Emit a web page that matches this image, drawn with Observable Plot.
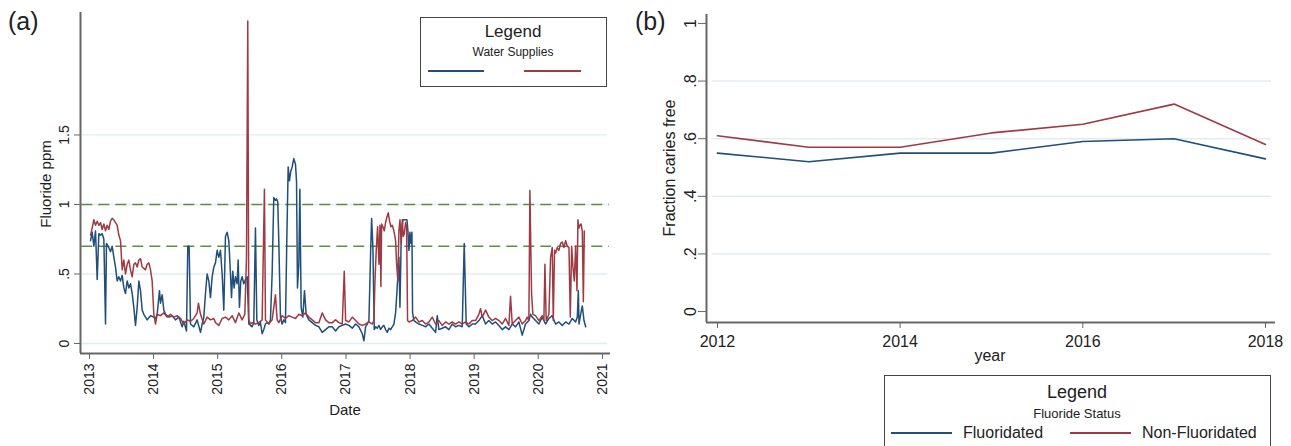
<!DOCTYPE html>
<html>
<head>
<meta charset="utf-8">
<script src="https://cdn.jsdelivr.net/npm/d3@7"></script>
<script src="https://cdn.jsdelivr.net/npm/@observablehq/plot@0.6"></script>
<style>
  html, body { margin: 0; padding: 0; background: #fff; }
  #page { position: relative; width: 1291px; height: 446px; overflow: hidden; background: #fff;
          font-family: "Liberation Sans", Arial, sans-serif; color: #222; }
  .abs { position: absolute; white-space: nowrap; }
  .chart { position: absolute; top: 0; }
  .legend { position: absolute; border: 1.5px solid #444; background: #fff; box-sizing: border-box; }
  .swatch { position: absolute; height: 0; border-top: 2px solid; }
</style>
</head>
<body>
<div id="page"></div>
<script>
// ---------------- DATA ----------------
// Panel (a): weekly fluoride level (ppm) by decimal year
const fluoridatedSupply = [
  [2013.016,.74],[2013.042,.80],[2013.068,.70],[2013.094,.81],[2013.120,.46],[2013.146,.79],[2013.172,.78],
  [2013.198,.79],[2013.224,.75],[2013.250,.14],[2013.265,.72],[2013.302,.69],[2013.328,.66],[2013.354,.70],
  [2013.380,.62],[2013.406,.55],[2013.432,.45],[2013.458,.48],[2013.484,.45],[2013.510,.49],[2013.536,.40],
  [2013.562,.36],[2013.588,.45],[2013.614,.40],[2013.640,.43],[2013.666,.36],[2013.692,.26],[2013.718,.13],
  [2013.744,.26],[2013.770,.45],[2013.796,.38],[2013.822,.24],[2013.848,.21],[2013.874,.19],[2013.900,.17],
  [2013.952,.20],[2014.004,.19],[2014.030,.18],[2014.056,.21],[2014.092,.38],[2014.108,.29],[2014.134,.35],
  [2014.160,.24],[2014.186,.21],[2014.238,.19],[2014.290,.20],[2014.342,.17],[2014.394,.19],[2014.446,.12],
  [2014.472,.16],[2014.514,.09],[2014.534,.70],[2014.555,.70],[2014.576,.14],[2014.628,.12],[2014.680,.17],
  [2014.732,.08],[2014.758,.14],[2014.784,.19],[2014.810,.36],[2014.836,.50],[2014.862,.45],[2014.888,.33],
  [2014.914,.48],[2014.940,.55],[2014.966,.58],[2014.992,.67],[2015.018,.62],[2015.044,.67],[2015.070,.50],
  [2015.096,.24],[2015.122,.77],[2015.148,.80],[2015.174,.74],[2015.200,.50],[2015.216,.33],[2015.236,.52],
  [2015.257,.40],[2015.278,.48],[2015.304,.43],[2015.320,.60],[2015.340,.26],[2015.361,.45],[2015.382,.48],
  [2015.408,.43],[2015.434,.46],[2015.460,.48],[2015.486,.14],[2015.512,.13],[2015.538,.12],[2015.564,.15],
  [2015.590,.83],[2015.611,.17],[2015.642,.13],[2015.668,.15],[2015.694,.07],[2015.720,.10],[2015.746,.14],
  [2015.772,.15],[2015.798,.14],[2015.824,.17],[2015.850,.50],[2015.876,1.05],[2015.902,1.03],[2015.918,1.04],
  [2015.938,1.02],[2015.954,.74],[2015.980,.19],[2016.006,.14],[2016.032,.17],[2016.058,.15],[2016.079,.74],
  [2016.100,1.27],[2016.120,1.17],[2016.141,1.24],[2016.162,1.27],[2016.188,1.33],[2016.214,1.29],[2016.230,1.17],
  [2016.245,.40],[2016.266,.57],[2016.282,1.11],[2016.302,.26],[2016.328,.19],[2016.354,.38],[2016.380,.21],
  [2016.422,.17],[2016.474,.15],[2016.526,.13],[2016.578,.12],[2016.630,.08],[2016.682,.10],[2016.734,.12],
  [2016.786,.12],[2016.838,.09],[2016.890,.12],[2016.942,.13],[2016.994,.14],[2017.046,.13],[2017.098,.11],
  [2017.150,.14],[2017.202,.12],[2017.254,.07],[2017.280,.02],[2017.306,.12],[2017.332,.14],[2017.358,.165],
  [2017.384,.65],[2017.400,.90],[2017.420,.69],[2017.441,.10],[2017.462,.12],[2017.488,.11],[2017.514,.13],
  [2017.540,.10],[2017.566,.12],[2017.592,.13],[2017.618,.10],[2017.644,.08],[2017.670,.11],[2017.696,.10],
  [2017.722,.12],[2017.748,.14],[2017.774,.22],[2017.800,.41],[2017.826,.62],[2017.842,.26],[2017.862,.77],
  [2017.888,.89],[2017.909,.89],[2017.930,.89],[2017.951,.89],[2017.966,.81],[2017.982,.67],[2017.998,.80],
  [2018.013,.72],[2018.029,.80],[2018.039,.22],[2018.060,.165],[2018.086,.155],[2018.138,.14],[2018.190,.13],
  [2018.242,.12],[2018.294,.14],[2018.346,.11],[2018.398,.08],[2018.424,.20],[2018.450,.10],[2018.502,.11],
  [2018.554,.12],[2018.606,.10],[2018.658,.14],[2018.710,.12],[2018.762,.13],[2018.814,.12],[2018.845,.72],
  [2018.876,.14],[2018.918,.12],[2018.970,.14],[2019.022,.14],[2019.074,.165],[2019.126,.20],[2019.178,.14],
  [2019.230,.165],[2019.282,.14],[2019.334,.155],[2019.386,.13],[2019.438,.10],[2019.490,.12],[2019.542,.10],
  [2019.594,.14],[2019.646,.12],[2019.698,.155],[2019.750,.06],[2019.802,.14],[2019.854,.165],[2019.880,.21],
  [2019.906,.19],[2019.958,.165],[2020.010,.14],[2020.062,.19],[2020.114,.14],[2020.166,.18],[2020.218,.20],
  [2020.270,.14],[2020.322,.155],[2020.374,.13],[2020.426,.155],[2020.478,.14],[2020.530,.18],[2020.582,.155],
  [2020.608,.19],[2020.624,.38],[2020.634,.14],[2020.660,.21],[2020.686,.27],[2020.712,.165],[2020.738,.12]
];
const nonFluoridatedSupply = [
  [2013.016,.78],[2013.042,.83],[2013.068,.89],[2013.094,.85],[2013.120,.88],[2013.146,.85],[2013.172,.87],
  [2013.198,.82],[2013.224,.86],[2013.250,.81],[2013.276,.85],[2013.302,.82],[2013.328,.88],[2013.354,.90],
  [2013.380,.89],[2013.406,.87],[2013.432,.85],[2013.458,.78],[2013.484,.74],[2013.510,.53],[2013.536,.60],
  [2013.562,.50],[2013.588,.57],[2013.614,.60],[2013.640,.53],[2013.666,.48],[2013.692,.57],[2013.718,.58],
  [2013.744,.55],[2013.770,.60],[2013.796,.61],[2013.822,.55],[2013.848,.54],[2013.874,.53],[2013.900,.57],
  [2013.926,.58],[2013.952,.53],[2013.978,.45],[2014.004,.21],[2014.030,.14],[2014.056,.21],[2014.108,.20],
  [2014.160,.22],[2014.212,.19],[2014.264,.21],[2014.316,.19],[2014.368,.20],[2014.420,.18],[2014.472,.14],
  [2014.524,.17],[2014.576,.16],[2014.628,.18],[2014.680,.22],[2014.700,.29],[2014.732,.21],[2014.784,.14],
  [2014.836,.19],[2014.888,.17],[2014.940,.18],[2014.966,.15],[2015.018,.13],[2015.070,.18],[2015.122,.19],
  [2015.174,.17],[2015.226,.20],[2015.278,.15],[2015.330,.22],[2015.382,.17],[2015.424,.21],[2015.450,.62],
  [2015.470,2.32],[2015.486,.17],[2015.512,.14],[2015.538,.15],[2015.590,.14],[2015.642,.15],[2015.694,.17],
  [2015.730,1.11],[2015.746,.17],[2015.798,.14],[2015.850,.17],[2015.902,.35],[2015.928,.17],[2015.954,.15],
  [2016.006,.20],[2016.058,.18],[2016.110,.20],[2016.162,.19],[2016.214,.18],[2016.266,.21],[2016.318,.20],
  [2016.370,.22],[2016.422,.19],[2016.474,.17],[2016.526,.15],[2016.578,.15],[2016.630,.22],[2016.682,.17],
  [2016.734,.15],[2016.786,.15],[2016.838,.17],[2016.890,.15],[2016.942,.14],[2016.973,.52],[2016.994,.165],
  [2017.046,.155],[2017.098,.19],[2017.150,.165],[2017.202,.14],[2017.254,.13],[2017.306,.14],[2017.358,.155],
  [2017.410,.14],[2017.436,.165],[2017.452,.45],[2017.472,.67],[2017.493,.84],[2017.514,.57],[2017.530,.85],
  [2017.545,.41],[2017.556,.86],[2017.576,.84],[2017.597,.81],[2017.618,.87],[2017.639,.91],[2017.660,.94],
  [2017.680,.88],[2017.701,.84],[2017.722,.85],[2017.748,.81],[2017.774,.74],[2017.790,.57],[2017.810,.45],
  [2017.826,.81],[2017.842,.89],[2017.862,.72],[2017.878,.89],[2017.894,.77],[2017.909,.79],[2017.930,.87],
  [2017.946,.84],[2017.961,.165],[2017.982,.155],[2018.034,.165],[2018.086,.19],[2018.138,.155],[2018.190,.165],
  [2018.242,.14],[2018.294,.155],[2018.346,.19],[2018.398,.14],[2018.450,.165],[2018.502,.13],[2018.554,.155],
  [2018.606,.14],[2018.658,.155],[2018.710,.14],[2018.762,.155],[2018.814,.14],[2018.866,.155],[2018.918,.14],
  [2018.970,.165],[2019.022,.165],[2019.074,.21],[2019.100,.25],[2019.126,.19],[2019.178,.24],[2019.230,.19],
  [2019.282,.165],[2019.334,.18],[2019.386,.165],[2019.438,.14],[2019.490,.18],[2019.542,.13],[2019.568,.34],
  [2019.594,.14],[2019.646,.165],[2019.698,.19],[2019.750,.14],[2019.802,.165],[2019.828,.19],[2019.854,.165],
  [2019.870,1.10],[2019.896,.36],[2019.916,.21],[2019.958,.20],[2020.010,.165],[2020.062,.20],[2020.088,.165],
  [2020.104,.57],[2020.124,.165],[2020.166,.21],[2020.192,.62],[2020.218,.69],[2020.234,.165],[2020.254,.67],
  [2020.270,.65],[2020.296,.69],[2020.322,.67],[2020.348,.72],[2020.374,.73],[2020.400,.69],[2020.426,.74],
  [2020.452,.70],[2020.478,.69],[2020.499,.19],[2020.520,.70],[2020.540,.55],[2020.561,.45],[2020.582,.70],
  [2020.603,.38],[2020.618,.89],[2020.634,.83],[2020.650,.85],[2020.665,.86],[2020.686,.81],[2020.702,.30],
  [2020.717,.81]
];
const recommendedLevels = [1.0, 0.7];          // dashed reference lines
const ppmTicks = [0, 0.5, 1, 1.5];
const dateTickYears = [2013, 2014, 2015, 2016, 2017, 2018, 2019, 2020, 2021];

// Panel (b): fraction caries free by year
const surveyYears = [2012, 2013, 2014, 2015, 2016, 2017, 2018];
const cariesFreeFluoridated    = [0.55, 0.52, 0.55, 0.55, 0.59, 0.60, 0.53];
const cariesFreeNonFluoridated = [0.61, 0.57, 0.57, 0.62, 0.65, 0.72, 0.58];
const fractionTicks = [0, 0.2, 0.4, 0.6, 0.8, 1];
const yearTicks = [2012, 2014, 2016, 2018];

// ---------------- STYLE ----------------
const BLUE = "#1f4f7a", RED = "#9e3a44", GREEN = "#5f8f3d", GRID = "#e3edf0", AXIS = "#666", TXT = "#222";
const FONT = '"Liberation Sans", Arial, sans-serif';
const stataFmt = d => String(d).replace(/^0\./, ".");
const toDate = t => { const y = Math.floor(t); const s = Date.UTC(y, 0, 1), e = Date.UTC(y + 1, 0, 1); return new Date(s + (t - y) * (e - s)); };

const page = document.getElementById("page");
function addText(txt, css) {
  const d = document.createElement("div");
  d.className = "abs"; d.textContent = txt;
  Object.assign(d.style, css);
  page.appendChild(d);
  return d;
}

// ---------------- PANEL (a) ----------------
const xA0 = toDate(2012.86), xA1 = toDate(2021.125), yA0 = -0.072, yA1 = 2.381;
const chartA = Plot.plot({
  width: 620, height: 446,
  marginLeft: 80, marginRight: 10, marginTop: 12, marginBottom: 93,
  style: {fontFamily: FONT, fontSize: "14px", color: TXT, background: "transparent", overflow: "visible"},
  x: {type: "utc", domain: [xA0, xA1]},
  y: {domain: [yA0, yA1]},
  marks: [
    Plot.ruleY(ppmTicks, {x1: toDate(2012.89), x2: toDate(2021.08), stroke: GRID, strokeWidth: 1.3}),
    Plot.ruleY(recommendedLevels, {x1: toDate(2012.88), x2: toDate(2021.11), stroke: GREEN, strokeWidth: 1.4, strokeDasharray: "11,6"}),
    Plot.line(fluoridatedSupply, {x: d => toDate(d[0]), y: d => d[1], stroke: BLUE, strokeWidth: 1.5}),
    Plot.line(nonFluoridatedSupply, {x: d => toDate(d[0]), y: d => d[1], stroke: RED, strokeWidth: 1.5}),
    Plot.ruleX([xA0], {stroke: AXIS, strokeWidth: 2}),
    Plot.ruleY([yA0], {stroke: AXIS, strokeWidth: 2}),
    Plot.axisX({ticks: dateTickYears.map(y => new Date(Date.UTC(y, 0, 1))), tickFormat: d => String(d.getUTCFullYear()),
                tickRotate: -90, tickSize: 6, tickPadding: 4, label: null, stroke: AXIS, fill: TXT, fontSize: 14}),
    Plot.axisY({ticks: ppmTicks, tickFormat: stataFmt, tickRotate: -90, tickSize: 6, tickPadding: 6,
                label: null, stroke: AXIS, fill: TXT, fontSize: 14})
  ]
});
chartA.classList.add("chart");
chartA.style.left = "0px";
page.appendChild(chartA);

addText("(a)", {left: "8px", top: "7px", fontSize: "25px"});
addText("Fluoride ppm", {left: "45px", top: "184px", fontSize: "15px", transform: "translate(-50%,-50%) rotate(-90deg)"});
addText("Date", {left: "345px", top: "409px", fontSize: "15px", transform: "translate(-50%,-50%)"});

// legend (a)
const legA = document.createElement("div");
legA.className = "legend";
Object.assign(legA.style, {left: "420px", top: "17px", width: "187px", height: "70px"});
page.appendChild(legA);
addText("Legend", {left: "513px", top: "32px", fontSize: "17px", transform: "translate(-50%,-50%)"});
addText("Water Supplies", {left: "513px", top: "52px", fontSize: "12px", transform: "translate(-50%,-50%)"});
const swA1 = document.createElement("div"); swA1.className = "swatch";
Object.assign(swA1.style, {left: "428px", top: "70px", width: "56px", borderColor: BLUE}); page.appendChild(swA1);
const swA2 = document.createElement("div"); swA2.className = "swatch";
Object.assign(swA2.style, {left: "524px", top: "70px", width: "57px", borderColor: RED}); page.appendChild(swA2);

// ---------------- PANEL (b) ----------------
const xB0 = 2011.880, xB1 = 2018.110, yB0 = -0.038, yB1 = 1.031;
const seriesB = [
  ...surveyYears.map((y, i) => ({year: y, value: cariesFreeFluoridated[i], status: "Fluoridated"})),
  ...surveyYears.map((y, i) => ({year: y, value: cariesFreeNonFluoridated[i], status: "Non-Fluoridated"}))
];
const chartB = Plot.plot({
  width: 671, height: 446,
  marginLeft: 86, marginRight: 16, marginTop: 14, marginBottom: 124,
  style: {fontFamily: FONT, fontSize: "16px", color: TXT, background: "transparent", overflow: "visible"},
  x: {domain: [xB0, xB1]},
  y: {domain: [yB0, yB1]},
  color: {domain: ["Fluoridated", "Non-Fluoridated"], range: [BLUE, RED]},
  marks: [
    Plot.ruleY(fractionTicks.filter(d => d > 0 && d < 1), {x1: 2011.946, x2: 2018.066, stroke: GRID, strokeWidth: 1.5}),
    Plot.line(seriesB, {x: "year", y: "value", z: "status", stroke: "status", strokeWidth: 1.6}),
    Plot.ruleX([xB0], {stroke: AXIS, strokeWidth: 2}),
    Plot.ruleY([yB0], {stroke: AXIS, strokeWidth: 2}),
    Plot.axisX({ticks: yearTicks, tickFormat: d => String(d), tickSize: 6, tickPadding: 7,
                label: null, stroke: AXIS, fill: TXT, fontSize: 16}),
    Plot.axisY({ticks: fractionTicks, tickFormat: stataFmt, tickRotate: -90, tickSize: 8, tickPadding: 3,
                label: null, stroke: AXIS, fill: TXT, fontSize: 16})
  ]
});
chartB.classList.add("chart");
chartB.style.left = "620px";
page.appendChild(chartB);

addText("(b)", {left: "635px", top: "7px", fontSize: "25px"});
addText("Fraction caries free", {left: "670px", top: "168px", fontSize: "16px", transform: "translate(-50%,-50%) rotate(-90deg)"});
addText("year", {left: "990px", top: "356px", fontSize: "16px", transform: "translate(-50%,-50%)"});

// legend (b)
const legB = document.createElement("div");
legB.className = "legend";
Object.assign(legB.style, {left: "884px", top: "375px", width: "387px", height: "90px"});
page.appendChild(legB);
addText("Legend", {left: "1077px", top: "392px", fontSize: "18px", transform: "translate(-50%,-50%)"});
addText("Fluoride Status", {left: "1077px", top: "413px", fontSize: "13px", transform: "translate(-50%,-50%)"});
const swB1 = document.createElement("div"); swB1.className = "swatch";
Object.assign(swB1.style, {left: "891px", top: "432px", width: "61px", borderColor: BLUE}); page.appendChild(swB1);
addText("Fluoridated", {left: "963px", top: "433px", fontSize: "16px", transform: "translateY(-50%)"});
const swB2 = document.createElement("div"); swB2.className = "swatch";
Object.assign(swB2.style, {left: "1070px", top: "432px", width: "61px", borderColor: RED}); page.appendChild(swB2);
addText("Non-Fluoridated", {left: "1142px", top: "433px", fontSize: "16px", transform: "translateY(-50%)"});
</script>
</body>
</html>
